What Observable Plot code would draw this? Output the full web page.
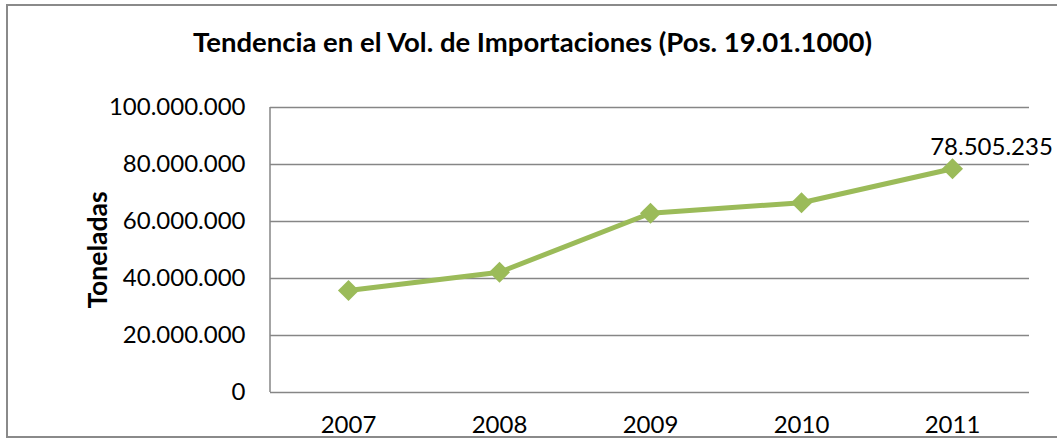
<!DOCTYPE html>
<html>
<head>
<meta charset="utf-8">
<script src="https://cdn.jsdelivr.net/npm/d3@7"></script>
<script src="https://cdn.jsdelivr.net/npm/@observablehq/plot@0.6"></script>
<style>
  html, body { margin: 0; padding: 0; background: #fff; }
  #wrap { position: relative; width: 1057px; height: 440px; overflow: hidden; font-family: Lato, "Open Sans", sans-serif; }
  #border { position: absolute; left: 6px; top: 4px; width: 1070px; height: 434px; border: 2px solid #8a8a8a; box-sizing: border-box; }
  #title { position: absolute; left: 0; width: 1065px; top: 26px; text-align: center; font-weight: bold; font-size: 27.5px; line-height: 32px; color: #000; }
  #chart { position: absolute; left: 0; top: 0; }
</style>
</head>
<body>
<div id="wrap">
  <div id="border"></div>
  <div id="title">Tendencia en el Vol. de Importaciones (Pos. 19.01.1000)</div>
  <div id="chart"></div>
</div>
<script>
const years = ["2007", "2008", "2009", "2010", "2011"];
const volumes = [35800000, 42200000, 62900000, 66600000, 78505235];
const yTicks = [0, 20000000, 40000000, 60000000, 80000000, 100000000];
const labelYear = "2011";
const yTitle = "Toneladas";

const data = years.map((y, i) => ({year: y, value: volumes[i]}));
const esFmt = d3.formatLocale({decimal: ",", thousands: ".", grouping: [3], currency: ["", ""]}).format(",");
const lineColor = "#9BBB59";
const gridColor = "#868686";

const leftLine = (index, scales, values, dims) => {
  const l = document.createElementNS("http://www.w3.org/2000/svg", "line");
  const x = dims.marginLeft;
  l.setAttribute("x1", x); l.setAttribute("x2", x);
  l.setAttribute("y1", dims.marginTop); l.setAttribute("y2", dims.height - dims.marginBottom);
  l.setAttribute("stroke", gridColor); l.setAttribute("stroke-width", 1.5);
  return l;
};

const chart = Plot.plot({
  width: 1057,
  height: 440,
  marginLeft: 270,
  marginRight: 28,
  marginTop: 107,
  marginBottom: 48,
  style: {fontFamily: "Lato, 'Open Sans', sans-serif", fontSize: "24px", color: "#000", background: "transparent", overflow: "visible"},
  x: {type: "point", domain: years, padding: 0.5, label: null, tickSize: 0, tickPadding: 23, tickFormat: d => d},
  y: {domain: [0, 100000000], ticks: yTicks, label: null, tickSize: 0, tickPadding: 25, tickFormat: esFmt},
  marks: [
    Plot.ruleY(yTicks, {stroke: gridColor, strokeWidth: 1.5, strokeOpacity: 1}),
    leftLine,
    Plot.line(data, {x: "year", y: "value", stroke: lineColor, strokeWidth: 5, strokeLinejoin: "round", strokeLinecap: "round"}),
    Plot.dot(data, {x: "year", y: "value", symbol: "diamond2", r: 9.5, fill: lineColor, stroke: "none"}),
    Plot.text(data.filter(d => d.year === labelYear), {x: "year", y: "value", text: d => esFmt(d.value), dx: 39, dy: -21, fontSize: 24, fill: "#000"}),
    Plot.text([yTitle], {frameAnchor: "left", textAnchor: "middle", text: d => d, rotate: -90, dx: -172, fontSize: 26.5, fontWeight: "bold", fill: "#000"})
  ]
});
document.getElementById("chart").appendChild(chart);
</script>
</body>
</html>
